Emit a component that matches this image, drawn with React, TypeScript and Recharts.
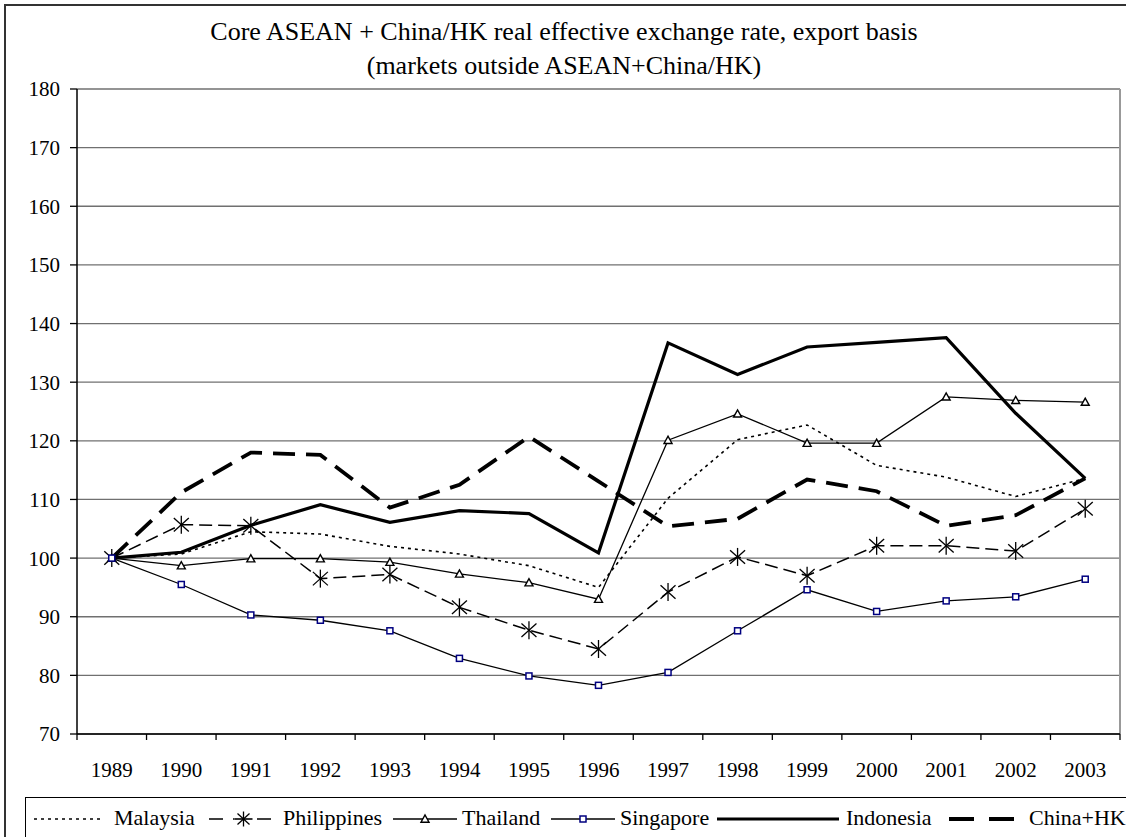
import React from 'react';
import { LineChart, Line, XAxis, YAxis, CartesianGrid, ReferenceLine } from 'recharts';

const years = ['1989', '1990', '1991', '1992', '1993', '1994', '1995', '1996', '1997', '1998', '1999', '2000', '2001', '2002', '2003'];
const malaysia = [100, 100.7, 104.5, 104.1, 102.0, 100.7, 98.7, 95.0, 110.2, 120.2, 122.7, 115.8, 113.8, 110.5, 113.6];
const philippines = [100, 105.7, 105.5, 96.5, 97.2, 91.6, 87.7, 84.5, 94.2, 100.2, 97.0, 102.1, 102.1, 101.2, 108.4];
const thailand = [100, 98.7, 99.9, 99.9, 99.3, 97.3, 95.8, 93.0, 120.1, 124.6, 119.6, 119.6, 127.5, 126.9, 126.6];
const singapore = [100, 95.5, 90.3, 89.4, 87.6, 82.9, 79.9, 78.3, 80.5, 87.6, 94.6, 90.9, 92.7, 93.4, 96.4];
const indonesia = [100, 101.0, 105.6, 109.1, 106.1, 108.1, 107.6, 100.9, 136.7, 131.3, 136.0, 136.8, 137.6, 124.7, 113.6];
const chinaHK = [100, 111.2, 118.0, 117.6, 108.6, 112.5, 120.7, 113.1, 105.4, 106.7, 113.4, 111.4, 105.5, 107.3, 113.6];
const yTicks = [70, 80, 90, 100, 110, 120, 130, 140, 150, 160, 170, 180];
const titleLines = ['Core ASEAN + China/HK real effective exchange rate, export basis', '(markets outside ASEAN+China/HK)'];
const seriesNames = ['Malaysia', 'Philippines', 'Thailand', 'Singapore', 'Indonesia', 'China+HK'];

const data = years.map((y, i) => ({
  i,
  year: y,
  Malaysia: malaysia[i],
  Philippines: philippines[i],
  Thailand: thailand[i],
  Singapore: singapore[i],
  Indonesia: indonesia[i],
  China: chinaHK[i],
}));

const boundaryTicks = [...years.map((_, i) => i - 0.5), years.length - 0.5];

const FONT = '"Liberation Serif", "Times New Roman", serif';
const W = 1126;
const H = 837;
const M = { top: 89, right: 6, bottom: 53, left: 0 };
const YW = 77;
const PLOT_W = W - M.right - M.left - YW;
const HALF = PLOT_W / years.length / 2;

const XTick = (props: any) => {
  const { x, y, payload } = props;
  const idx = Math.round(payload.value + 0.5);
  if (idx < 0 || idx >= years.length) return <g />;
  return (
    <text x={x + HALF} y={y} dy="0.71em" textAnchor="middle" fontSize={21} fill="#000" fontFamily={FONT}>
      {years[idx]}
    </text>
  );
};

const Star = ({ cx, cy, s = 7.5 }: any) => (
  <g>
    <line x1={cx - s} y1={cy - s * 0.9} x2={cx + s} y2={cy + s * 0.9} stroke="#000" strokeWidth={1.3} />
    <line x1={cx - s} y1={cy + s * 0.9} x2={cx + s} y2={cy - s * 0.9} stroke="#000" strokeWidth={1.3} />
    <line x1={cx} y1={cy - s - 1.5} x2={cx} y2={cy + s + 1.5} stroke="#000" strokeWidth={1.3} />
  </g>
);
const Tri = ({ cx, cy }: any) => (
  <path d={`M${cx - 4},${cy + 3.2} L${cx + 4},${cy + 3.2} L${cx},${cy - 4} Z`} fill="#fff" stroke="#000" strokeWidth={1.4} />
);
const Sq = ({ cx, cy }: any) => (
  <rect x={cx - 3} y={cy - 3} width={6} height={6} fill="#fff" stroke="#000080" strokeWidth={1.5} />
);

const starDot = (p: any) => <Star key={`st-${p.index}`} cx={p.cx} cy={p.cy} />;
const triDot = (p: any) => <Tri key={`tr-${p.index}`} cx={p.cx} cy={p.cy} />;
const sqDot = (p: any) => <Sq key={`sq-${p.index}`} cx={p.cx} cy={p.cy} />;

const LegendIcon = ({ kind, w }: { kind: number; w: number }) => {
  const cy = 10;
  let content: any = null;
  if (kind === 0) content = <line x1={0} y1={cy} x2={w} y2={cy} stroke="#000" strokeWidth={1.6} strokeDasharray="3 4" />;
  if (kind === 1)
    content = (
      <g>
        <line x1={0} y1={cy} x2={w} y2={cy} stroke="#000" strokeWidth={1.6} strokeDasharray="14 10" />
        <rect x={w / 2 - 9} y={0} width={18} height={20} fill="#fff" />
        <line x1={w / 2 - 9} y1={cy} x2={w / 2 + 9} y2={cy} stroke="#000" strokeWidth={1.6} />
        <Star cx={w / 2} cy={cy} s={6} />
      </g>
    );
  if (kind === 2)
    content = (
      <g>
        <line x1={0} y1={cy} x2={w} y2={cy} stroke="#000" strokeWidth={1.5} />
        <Tri cx={w / 2} cy={cy} />
      </g>
    );
  if (kind === 3)
    content = (
      <g>
        <line x1={0} y1={cy} x2={w} y2={cy} stroke="#000" strokeWidth={1.5} />
        <Sq cx={w / 2} cy={cy} />
      </g>
    );
  if (kind === 4) content = <line x1={0} y1={cy} x2={w} y2={cy} stroke="#000" strokeWidth={3.2} />;
  if (kind === 5) content = <line x1={0} y1={cy} x2={w} y2={cy} stroke="#000" strokeWidth={4} strokeDasharray="25 15" />;
  return (
    <svg width={w} height={20} style={{ display: 'block' }}>
      {content}
    </svg>
  );
};

const legendLayout = [
  { icon: 67, x: 33, tx: 113 },
  { icon: 69, x: 208, tx: 282 },
  { icon: 64, x: 392, tx: 461 },
  { icon: 64, x: 550, tx: 619 },
  { icon: 122, x: 716, tx: 845 },
  { icon: 65, x: 948, tx: 1028 },
];

export default function App() {
  return (
    <div style={{ position: 'absolute', left: 0, top: 0, width: W, height: H, overflow: 'hidden', background: '#fff', fontFamily: FONT }}>
      <div style={{ position: 'absolute', left: 4, top: 4, width: 1300, height: 1000, border: '2px solid #333', boxSizing: 'border-box' }} />
      <svg width={W} height={85} style={{ position: 'absolute', left: 0, top: 0 }}>
        <text x={564} y={40} textAnchor="middle" fontSize={26} fontFamily={FONT} fill="#000">{titleLines[0]}</text>
        <text x={564} y={74} textAnchor="middle" fontSize={26} fontFamily={FONT} fill="#000">{titleLines[1]}</text>
      </svg>
      <div style={{ position: 'absolute', left: 0, top: 0 }}>
        <LineChart width={W} height={H} data={data} margin={M}>
          <CartesianGrid horizontal vertical={false} stroke="#707070" strokeWidth={1.3} />
          <ReferenceLine x={years.length - 0.5} stroke="#999" strokeWidth={2} />
          <XAxis
            dataKey="i"
            type="number"
            domain={[-0.5, years.length - 0.5]}
            ticks={boundaryTicks}
            allowDecimals
            interval={0}
            tick={<XTick />}
            tickSize={6}
            tickMargin={22}
            height={50}
            axisLine={{ stroke: '#000', strokeWidth: 1.5 }}
            tickLine={{ stroke: '#000', strokeWidth: 1.3 }}
          />
          <YAxis
            type="number"
            domain={[70, 180]}
            ticks={yTicks}
            interval={0}
            width={YW}
            tickSize={7}
            tickMargin={10}
            tick={{ fontSize: 21, fill: '#000', fontFamily: FONT }}
            axisLine={{ stroke: '#000', strokeWidth: 1.5 }}
            tickLine={{ stroke: '#000', strokeWidth: 1.3 }}
          />
          <Line dataKey="Malaysia" stroke="#000" strokeWidth={1.6} strokeDasharray="3 4" dot={false} isAnimationActive={false} />
          <Line dataKey="Philippines" stroke="#000" strokeWidth={1.5} strokeDasharray="13 6" dot={starDot} isAnimationActive={false} />
          <Line dataKey="Thailand" stroke="#000" strokeWidth={1.3} dot={triDot} isAnimationActive={false} />
          <Line dataKey="Indonesia" stroke="#000" strokeWidth={3.2} dot={false} isAnimationActive={false} />
          <Line dataKey="China" stroke="#000" strokeWidth={3.8} strokeDasharray="22 11" dot={false} isAnimationActive={false} />
          <Line dataKey="Singapore" stroke="#000" strokeWidth={1.3} dot={sqDot} isAnimationActive={false} />
        </LineChart>
      </div>
      <div style={{ position: 'absolute', left: 25, top: 797, width: 1300, height: 200, borderLeft: '1.5px solid #000', borderTop: '1.5px solid #000' }}>
        {legendLayout.map((l, k) => (
          <React.Fragment key={k}>
            <div style={{ position: 'absolute', left: l.x - 25, top: 11 }}>
              <LegendIcon kind={k} w={l.icon} />
            </div>
            <div style={{ position: 'absolute', left: l.tx - 25, top: 7, fontSize: 22, lineHeight: '26px', whiteSpace: 'nowrap', color: '#000' }}>
              {seriesNames[k]}
            </div>
          </React.Fragment>
        ))}
      </div>
    </div>
  );
}
